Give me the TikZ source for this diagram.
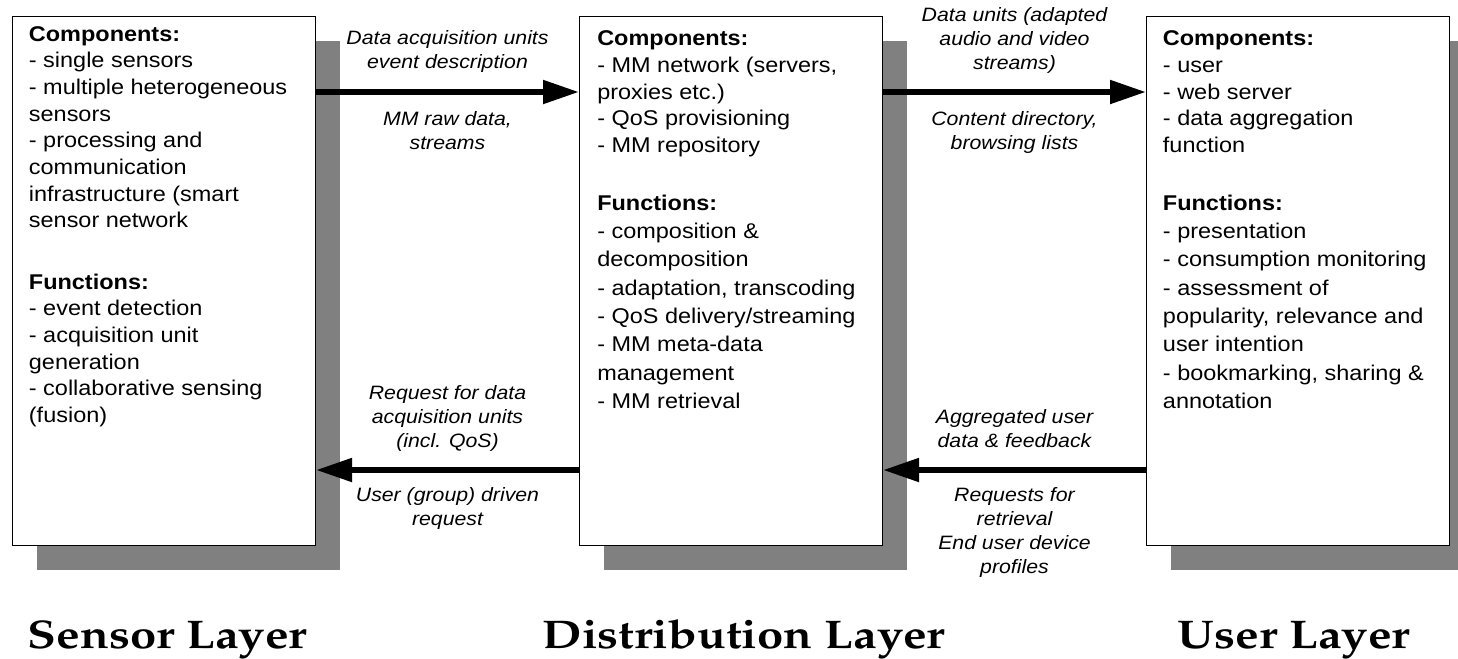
\documentclass[tikz,border=0pt]{standalone}
\usepackage{fontspec}
\usetikzlibrary{arrows.meta,positioning,shadows}
\newfontfamily\boxfont[FakeStretch=1.1]{Liberation Sans}
\newcommand\layertitlefont{\fontencoding{OT1}\fontfamily{ppl}\fontseries{b}\selectfont\fontsize{30}{34}\selectfont}
\definecolor{shadowgray}{gray}{0.5}
\tikzset{
  layerbox/.style={draw=black, line width=0.75pt, fill=white, inner sep=0pt, anchor=north west,
    minimum width=227.25pt, minimum height=396.75pt,
    drop shadow={shadow xshift=18pt, shadow yshift=-18pt, fill=shadowgray, opacity=1}},
  boxtext/.style={anchor=north west, align=left, inner sep=0pt,
    font=\boxfont\fontsize{16}{20}\selectfont},
  widetext/.style={boxtext, font=\boxfont\fontsize{16}{21.2}\selectfont},
  flowlabel/.style={align=center, inner sep=0pt, font=\boxfont\itshape\fontsize{14.5}{18}\selectfont},
  flow/.style={line width=4.5pt, -{Triangle[length=27pt,width=17pt]}},
  layertitle/.style={anchor=base, inner sep=0pt, font=\layertitlefont, xscale=1.18, transform shape}
}
\begin{document}
\begin{tikzpicture}[x=0.75pt,y=-0.75pt]
\useasboundingbox (0,0) rectangle (1458,658);
% layer boxes
\node[layerbox] (sensor) at (12,16) {};
\node[layerbox] (dist) at (579,16) {};
\node[layerbox] (user) at (1146,16) {};
% box contents
\node[boxtext] (sensortext) at ([xshift=12.5pt,yshift=-7.5pt]sensor.north west)
  {\textbf{Components:}\\- single sensors\\- multiple heterogeneous\\sensors\\- processing and\\communication\\infrastructure (smart\\sensor network\\[26pt]
   \textbf{Functions:}\\- event detection\\- acquisition unit\\generation\\- collaborative sensing\\(fusion)};
\node[boxtext] (distcomp) at ([xshift=13.5pt,yshift=-11pt]dist.north west)
  {\textbf{Components:}\\- MM network (servers,\\proxies etc.)\\- QoS provisioning\\- MM repository};
\node[widetext] (distfunc) at ([xshift=13.5pt,yshift=-134pt]dist.north west)
  {\textbf{Functions:}\\- composition \&\\decomposition\\- adaptation, transcoding\\- QoS delivery/streaming\\- MM meta-data\\management\\- MM retrieval};
\node[boxtext] (usercomp) at ([xshift=12.5pt,yshift=-11pt]user.north west)
  {\textbf{Components:}\\- user\\- web server\\- data aggregation\\function};
\node[widetext] (userfunc) at ([xshift=12.5pt,yshift=-134pt]user.north west)
  {\textbf{Functions:}\\- presentation\\- consumption monitoring\\- assessment of\\popularity, relevance and\\user intention\\- bookmarking, sharing \&\\annotation};
% flows between layers
\draw[flow] ([yshift=-57pt]sensor.north east) -- ([yshift=-57pt]dist.north west)
  node[flowlabel, midway, above=12pt] (acqlabel) {Data acquisition units\\event description}
  node[flowlabel, midway, below=12pt] (rawlabel) {MM raw data,\\streams};
\draw[flow] ([yshift=-57pt]dist.north east) -- ([yshift=-57pt]user.north west)
  node[flowlabel, midway, above=12pt] (unitslabel) {Data units (adapted\\audio and video\\streams)}
  node[flowlabel, midway, below=12pt] (dirlabel) {Content directory,\\browsing lists};
\draw[flow] ([yshift=57pt]dist.south west) -- ([yshift=57pt]sensor.south east)
  node[flowlabel, midway, above=12pt] (reqlabel) {Request for data\\acquisition units\\(incl. QoS)}
  node[flowlabel, midway, below=11pt] (grouplabel) {User (group) driven\\request};
\draw[flow] ([yshift=57pt]user.south west) -- ([yshift=57pt]dist.south east)
  node[flowlabel, midway, above=14.5pt] (feedlabel) {Aggregated user\\data \& feedback}
  node[flowlabel, midway, below=10.5pt] (retrlabel) {Requests for\\retrieval\\End user device\\profiles};
% layer titles
\node[layertitle] (sensortitle) at (167.5,648) {Sensor Layer};
\node[layertitle] (disttitle) at (744,648) {Distribution Layer};
\node[layertitle] (usertitle) at (1294,648) {User Layer};
\end{tikzpicture}
\end{document}
